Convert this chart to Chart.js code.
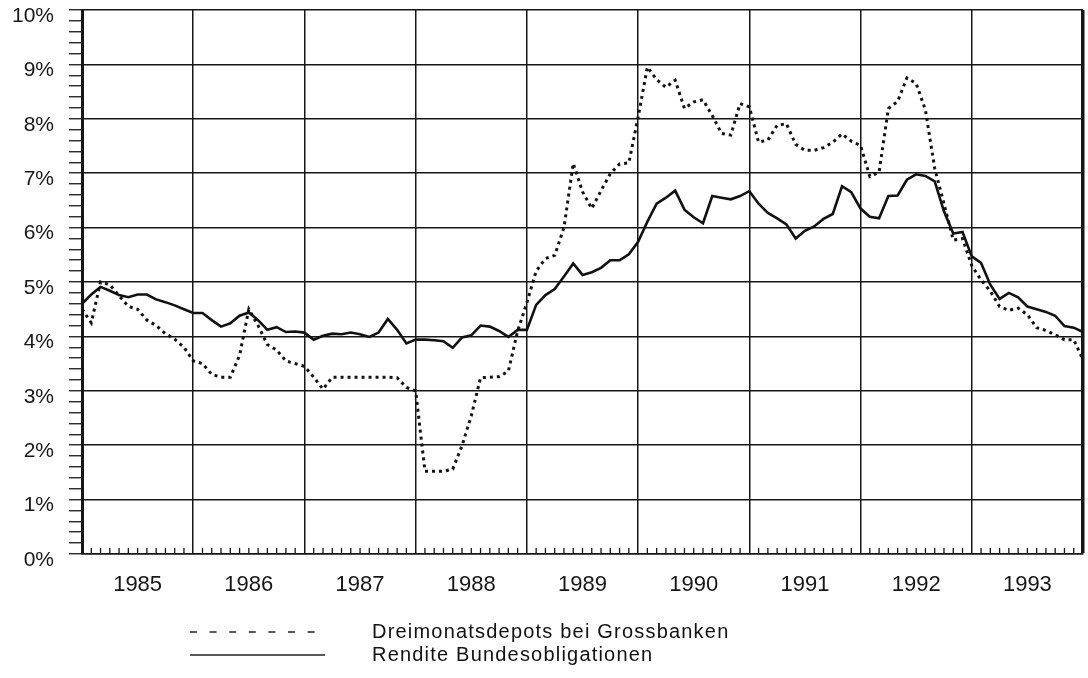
<!DOCTYPE html>
<html>
<head>
<meta charset="utf-8">
<script src="https://cdn.jsdelivr.net/npm/chart.js@4.4.0/dist/chart.umd.min.js"></script>
<style>
  html, body { margin: 0; padding: 0; background: #fff; }
  #wrap { position: relative; width: 1088px; height: 678px; }
  #legend { position: absolute; left: 190px; top: 620px; font-family: "Liberation Sans", Arial, sans-serif; font-size: 20px; color: #111; letter-spacing: 1.2px; }
  .row { height: 23px; display: flex; align-items: center; }
  .row svg { margin-right: 47px; }
</style>
</head>
<body>
<div id="wrap">
  <canvas id="myChart" width="1088" height="678"></canvas>
  <div id="legend">
    <div class="row"><svg width="135" height="4"><line x1="0" y1="2" x2="135" y2="2" stroke="#222" stroke-width="1.5" stroke-dasharray="7 12.6"/></svg><span>Dreimonatsdepots bei Grossbanken</span></div>
    <div class="row"><svg width="135" height="4"><line x1="0" y1="2" x2="135" y2="2" stroke="#222" stroke-width="1.5"/></svg><span>Rendite Bundesobligationen</span></div>
  </div>
</div>
<script>
// Zinssaetze 1985-1993, Monatswerte
const years = ['1985', '1986', '1987', '1988', '1989', '1990', '1991', '1992', '1993'];

const months = [];
years.forEach(y => {
  for (let m = 1; m <= 12; m++) months.push(y + '-' + String(m).padStart(2, '0'));
});
months.push('1994-01');

const depots = [
  4.50, 4.25, 5.00, 4.95, 4.75, 4.55, 4.50, 4.30, 4.20, 4.05, 3.95, 3.80,
  3.55, 3.50, 3.30, 3.25, 3.25, 3.65, 4.50, 4.20, 3.85, 3.75, 3.55, 3.50,
  3.45, 3.25, 3.03, 3.25, 3.25, 3.25, 3.25, 3.25, 3.25, 3.25, 3.24, 3.06,
  3.00, 1.52, 1.52, 1.52, 1.56, 1.99, 2.54, 3.24, 3.25, 3.26, 3.36, 4.10,
  4.62, 5.20, 5.43, 5.49, 6.00, 7.18, 6.66, 6.35, 6.68, 6.99, 7.17, 7.19,
  8.03, 8.95, 8.72, 8.58, 8.71, 8.19, 8.31, 8.35, 8.06, 7.73, 7.70, 8.28,
  8.22, 7.57, 7.61, 7.88, 7.91, 7.53, 7.42, 7.42, 7.47, 7.57, 7.72, 7.59,
  7.51, 6.94, 7.02, 8.19, 8.32, 8.75, 8.65, 8.16, 7.09, 6.44, 5.77, 5.80,
  5.30, 5.04, 4.83, 4.55, 4.48, 4.52, 4.40, 4.16, 4.11, 4.03, 3.94, 3.94,
  3.57
];

const rendite = [
  4.60, 4.77, 4.91, 4.84, 4.76, 4.72, 4.77, 4.77, 4.68, 4.63, 4.57, 4.50,
  4.43, 4.43, 4.30, 4.18, 4.24, 4.38, 4.44, 4.30, 4.12, 4.17, 4.08, 4.09,
  4.07, 3.94, 4.01, 4.05, 4.04, 4.07, 4.04, 3.99, 4.07, 4.32, 4.12, 3.87,
  3.94, 3.94, 3.93, 3.91, 3.79, 3.98, 4.02, 4.20, 4.18, 4.10, 3.99, 4.12,
  4.12, 4.58, 4.76, 4.87, 5.10, 5.34, 5.13, 5.18, 5.26, 5.40, 5.40, 5.51,
  5.74, 6.11, 6.44, 6.55, 6.68, 6.33, 6.19, 6.08, 6.58, 6.55, 6.52, 6.58,
  6.67, 6.44, 6.27, 6.17, 6.06, 5.80, 5.94, 6.02, 6.16, 6.25, 6.76, 6.65,
  6.35, 6.20, 6.17, 6.58, 6.59, 6.88, 6.98, 6.95, 6.85, 6.30, 5.89, 5.92,
  5.47, 5.35, 4.95, 4.69, 4.80, 4.72, 4.55, 4.50, 4.45, 4.38, 4.19, 4.16,
  4.08
];

const ink = '#161616';
const fontFamily = "'Liberation Sans', Arial, sans-serif";
const isMajor = v => Math.abs(v - Math.round(v)) < 1e-6;

// kleine Monatsstriche innen an der x-Achse
const monthTicks = {
  id: 'monthTicks',
  afterDatasetsDraw(chart) {
    const { ctx, chartArea, scales } = chart;
    ctx.save();
    ctx.strokeStyle = ink;
    ctx.lineWidth = 1.3;
    months.forEach((m, i) => {
      if (i % 12 === 0) return;
      const x = scales.x.getPixelForValue(i);
      ctx.beginPath();
      ctx.moveTo(x, chartArea.bottom);
      ctx.lineTo(x, chartArea.bottom - 6);
      ctx.stroke();
    });
    ctx.restore();
  }
};

const ctx = document.getElementById('myChart');

new Chart(ctx, {
  type: 'line',
  data: {
    labels: months,
    datasets: [
      {
        label: 'Dreimonatsdepots bei Grossbanken',
        data: depots,
        borderColor: '#111',
        borderWidth: 3,
        borderDash: [3, 4],
        pointRadius: 0,
        tension: 0
      },
      {
        label: 'Rendite Bundesobligationen',
        data: rendite,
        borderColor: '#111',
        borderWidth: 2.6,
        pointRadius: 0,
        tension: 0
      }
    ]
  },
  options: {
    responsive: false,
    animation: false,
    layout: { padding: { top: 10, right: 5, left: 0, bottom: 0 } },
    plugins: {
      legend: { display: false },
      tooltip: { enabled: false }
    },
    scales: {
      x: {
        type: 'category',
        offset: false,
        ticks: {
          autoSkip: false,
          maxRotation: 0,
          minRotation: 0,
          padding: 18,
          color: ink,
          font: { family: fontFamily, size: 22 },
          callback: (v, i) => (i % 12 === 6 ? years[Math.floor(i / 12)] : '')
        },
        grid: {
          drawTicks: false,
          color: c => (c.index % 12 === 0 ? ink : 'rgba(0,0,0,0)'),
          lineWidth: c => (c.index === months.length - 1 ? 3.5 : 1.5)
        },
        border: { display: true, color: ink, width: 1.5 },
        afterFit: s => {
          s.height = 124;
          s.paddingLeft = 0;
          s.paddingRight = 0;
        }
      },
      y: {
        min: 0,
        max: 10,
        ticks: {
          stepSize: 0.2,
          autoSkip: false,
          maxTicksLimit: 100,
          padding: 15,
          labelOffset: 6,
          color: ink,
          font: { family: fontFamily, size: 21 },
          callback: v => (isMajor(v) ? Math.round(v) + '%' : '')
        },
        grid: {
          color: c => (c.tick && isMajor(c.tick.value) ? ink : 'rgba(0,0,0,0)'),
          lineWidth: 1.5,
          tickColor: ink,
          tickWidth: 1.3,
          tickLength: 13
        },
        border: { display: true, color: ink, width: 3 },
        afterFit: s => {
          s.width = 82;
          s.paddingTop = 0;
          s.paddingBottom = 0;
        }
      }
    }
  },
  plugins: [monthTicks]
});
</script>
</body>
</html>
